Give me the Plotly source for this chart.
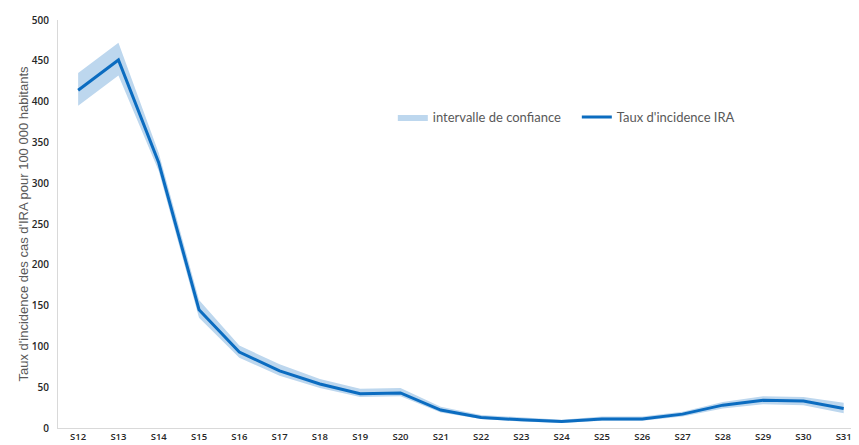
import plotly.graph_objects as go

weeks = ["S12","S13","S14","S15","S16","S17","S18","S19","S20","S21",
         "S22","S23","S24","S25","S26","S27","S28","S29","S30","S31"]
taux = [414, 451, 325, 145, 93, 70, 54, 42, 43, 22,
        13, 10, 8, 11, 11, 17, 28, 34, 33, 24]
ic_bas = [395, 432, 315, 135, 86, 64, 49, 38, 39, 19,
          11, 8, 6, 9, 9, 14, 24, 29, 28, 18]
ic_haut = [435, 472, 337, 157, 101, 78, 60, 48, 49, 26,
           16, 13, 10, 14, 14, 20, 32, 39, 38, 31]

line_color = "#0B6CC0"
band_color = "rgba(189,215,238,1)"

fig = go.Figure()
fig.add_trace(go.Scatter(x=weeks, y=ic_bas, mode="lines", line=dict(width=0),
                         showlegend=False, hoverinfo="skip"))
fig.add_trace(go.Scatter(x=weeks, y=ic_haut, mode="lines", line=dict(width=0),
                         fill="tonexty", fillcolor=band_color,
                         name="intervalle de confiance"))
fig.add_trace(go.Scatter(x=weeks, y=taux, mode="lines",
                         line=dict(color=line_color, width=3),
                         name="Taux d'incidence IRA"))

fig.update_layout(
    width=851, height=437,
    margin=dict(l=50, r=0, t=12, b=17),
    plot_bgcolor="white", paper_bgcolor="white",
    font=dict(family="Liberation Sans", color="#595959"),
    legend=dict(orientation="h", x=0.418, y=0.762, xanchor="left", yanchor="middle",
                traceorder="normal", entrywidth=139, entrywidthmode="pixels",
                font=dict(family="Lato", size=13, color="#595959"),
                bgcolor="rgba(0,0,0,0)", itemwidth=30, tracegroupgap=0),
)
fig.update_xaxes(
    type="category", range=[-0.5, 19.38],
    showline=True, linecolor="#D9D9D9", linewidth=1,
    showgrid=False, ticks="", automargin=False, ticklabelstandoff=0,
    tickfont=dict(family="Open Sans", size=9.5, color="#262626", weight=600),
)
fig.update_yaxes(
    range=[0, 500], dtick=50, tick0=0,
    showline=True, linecolor="#D9D9D9", linewidth=1,
    showgrid=False, zeroline=False, ticks="", automargin=False, ticklabelstandoff=6,
    tickfont=dict(family="Open Sans", size=10, color="#262626", weight=600),
    title=dict(text="Taux d'incidence des cas d'IRA pour 100 000 habitants",
               font=dict(family="Liberation Sans", size=13, color="#595959"),
               standoff=0),
)
fig.write_html("out.html")
